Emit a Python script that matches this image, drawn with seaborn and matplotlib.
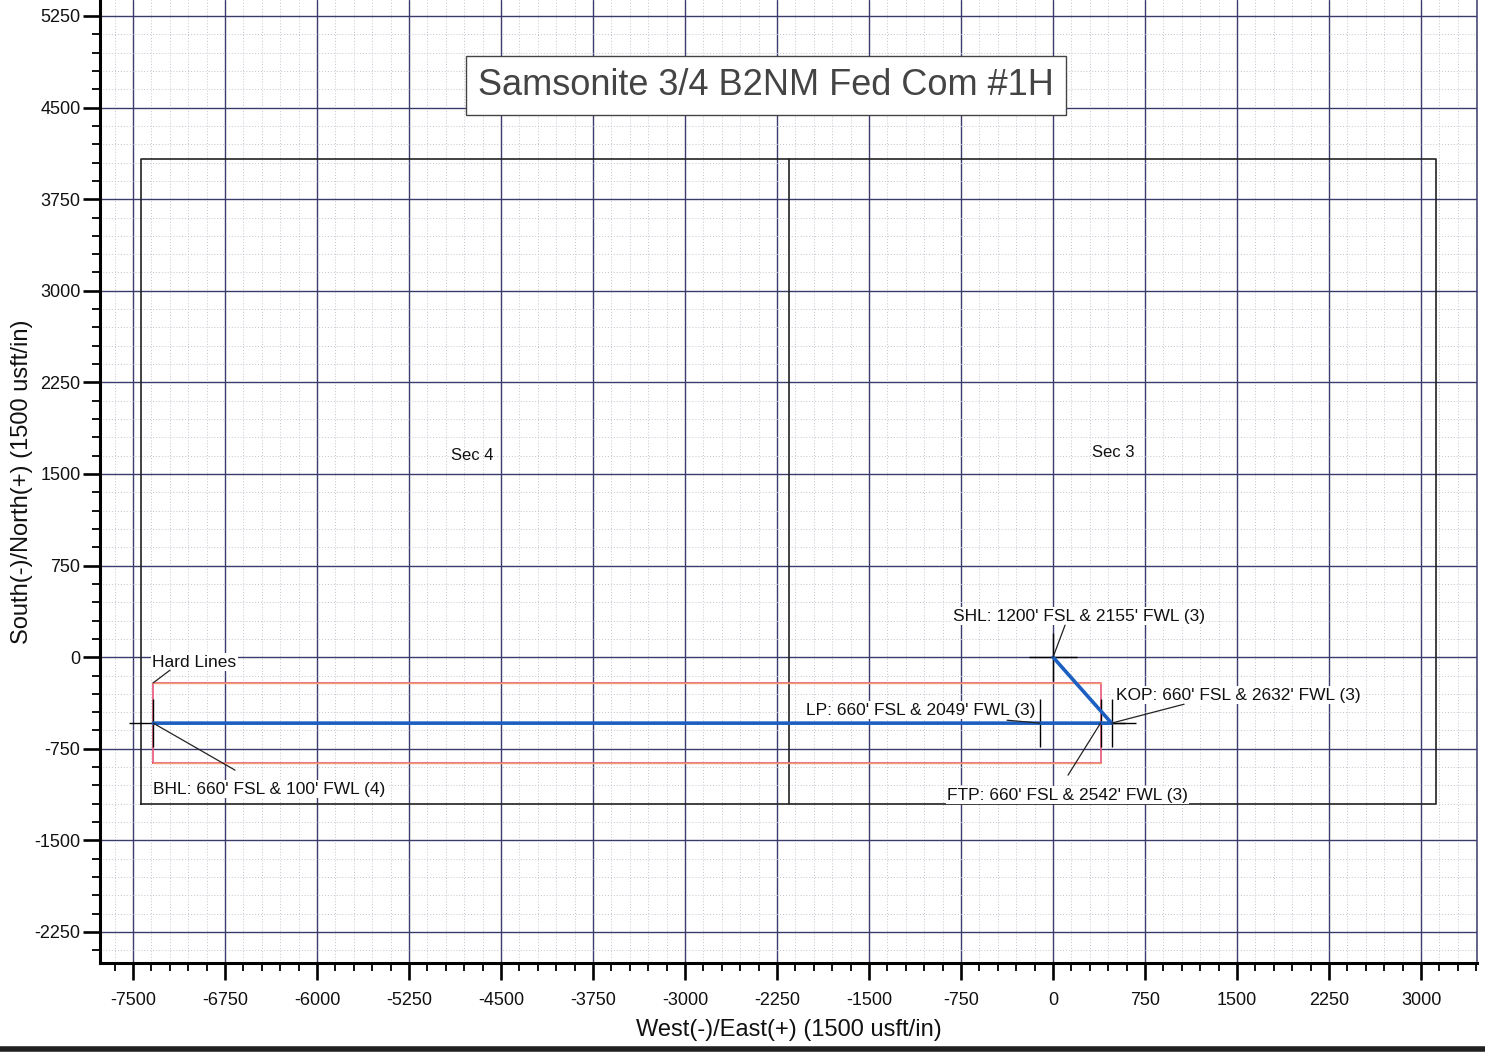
import matplotlib
matplotlib.use("Agg")
import matplotlib.pyplot as plt
import seaborn as sns
import numpy as np
import pandas as pd
from matplotlib.lines import Line2D

# ---------------- data ----------------
title_text = "Samsonite 3/4 B2NM Fed Com #1H"
x_label = "West(-)/East(+) (1500 usft/in)"
y_label = "South(-)/North(+) (1500 usft/in)"

x_ticks = [-7500, -6750, -6000, -5250, -4500, -3750, -3000, -2250, -1500, -750, 0, 750, 1500, 2250, 3000]
y_ticks = [-2250, -1500, -750, 0, 750, 1500, 2250, 3000, 3750, 4500, 5250]

# section boundaries (Sec 4 on the west, Sec 3 on the east)
section_names = ["Sec 4", "Sec 3"]
section_west = [-7435, -2155]
section_east = [-2155, 3125]
section_south = -1200
section_north = 4080

# well path points
point_names = ["SHL", "KOP", "FTP", "LP", "BHL"]
point_x = [0, 477, 387, -106, -7335]
point_y = [0, -540, -540, -540, -540]
point_labels = [
    "SHL: 1200' FSL & 2155' FWL (3)",
    "KOP: 660' FSL & 2632' FWL (3)",
    "FTP: 660' FSL & 2542' FWL (3)",
    "LP: 660' FSL & 2049' FWL (3)",
    "BHL: 660' FSL & 100' FWL (4)",
]

# hard lines box
hard_x = [-7335, 387]
hard_y = [-870, -210]
hard_label = "Hard Lines"

# ---------------- style ----------------
sns.set_theme(style="white")
plt.rcParams["font.family"] = ["Liberation Sans", "DejaVu Sans"]

fig = plt.figure(figsize=(14.85, 10.55), dpi=100)
ax = fig.add_axes([100 / 1485, 1 - 963 / 1055, 1377 / 1485, 963 / 1055])
ax.set_facecolor("white")

ax.set_xlim(-7769, 3456)
ax.set_ylim(-2504, 5381)

major_c = "#3c3c6c"
ax.set_xticks(x_ticks)
ax.set_yticks(y_ticks)
ax.set_xticks(np.arange(-7650, 3451, 150), minor=True)
ax.set_yticks(np.arange(-2400, 5381, 150), minor=True)
ax.set_xticklabels([str(v) for v in x_ticks])
ax.set_yticklabels([str(v) for v in y_ticks])

ax.grid(which="minor", color="#c4c4d0", linestyle=(0, (1, 2)), linewidth=0.7, zorder=0)
ax.grid(which="major", color=major_c, linestyle="-", linewidth=1.0, zorder=0.5)
ax.set_axisbelow(True)

ax.tick_params(axis="both", which="major", direction="out", length=12, width=1.9,
               color="black", labelsize=13, labelcolor="#111111")
ax.tick_params(axis="both", which="minor", direction="out", length=6, width=1.3, color="black")
ax.tick_params(axis="x", which="major", pad=9)
ax.tick_params(axis="y", which="major", pad=2)
ax.tick_params(left=True, bottom=True, which="both")

for s in ["left", "bottom"]:
    ax.spines[s].set_linewidth(2.2)
    ax.spines[s].set_color("black")
ax.spines["top"].set_visible(False)
ax.spines["right"].set_linewidth(1.1)
ax.spines["right"].set_color(major_c)

# ---------------- sections ----------------
x0, x1 = section_west[0], section_east[-1]
ax.plot([x0, x1, x1, x0, x0],
        [section_south, section_south, section_north, section_north, section_south],
        color="#222222", lw=1.2, zorder=2)
for w in section_west[1:]:
    ax.plot([w, w], [section_south, section_north], color="#222222", lw=1.2, zorder=2)

sec_pos = {"Sec 4": (-4736, 1655), "Sec 3": (489, 1680)}
for name in section_names:
    ax.text(*sec_pos[name], name, fontsize=12, ha="center", va="center", color="#111111", zorder=3)

# ---------------- hard lines ----------------
hx0, hx1 = hard_x
hy0, hy1 = hard_y
ax.plot([hx0, hx1, hx1, hx0, hx0], [hy0, hy0, hy1, hy1, hy0], color="#e8557c", lw=1.2, zorder=3)
ax.plot([hx0, hx1], [hy1, hy1], color="#f29a72", lw=1.0, zorder=3.1)
ax.plot([hx0, hx1], [hy0, hy0], color="#f29a72", lw=1.0, zorder=3.1)

# ---------------- well path ----------------
df = pd.DataFrame({"x": point_x, "y": point_y, "name": point_names})
sns.scatterplot(data=df, x="x", y="y", marker="+", s=34 ** 2, color="black",
                linewidth=1.0, ax=ax, zorder=4, legend=False)
sns.lineplot(data=df, x="x", y="y", sort=False, estimator=None, color="#1c5fc0",
             lw=2.6, ax=ax, zorder=5)

ax.set_xlabel(x_label, fontsize=17, color="#111111", va="center")
ax.set_ylabel(y_label, fontsize=17, color="#111111", va="center")
ax.xaxis.set_label_coords(0.5, (963 - 1030) / 963)
ax.yaxis.set_label_coords((22 - 100) / 1377, 0.5)

# ---------------- labels & leaders ----------------
label_layout = {
    "SHL": ((-815, 337), (98, 262)),
    "KOP": ((514, -310), (1068, -385)),
    "FTP": ((-864, -1129), (122, -966)),
    "LP": ((-2014, -433), (-375, -516)),
    "BHL": ((-7337, -1080), (-6668, -925)),
}
bb = dict(facecolor="white", edgecolor="none", pad=1.0)
for name, px, py, lab in zip(point_names, point_x, point_y, point_labels):
    (tx, ty), (lx, ly) = label_layout[name]
    ax.text(tx, ty, lab, fontsize=12.5, ha="left", va="center", color="#111111", bbox=bb, zorder=6)
    ax.plot([lx, px], [ly, py], color="#222222", lw=0.9, zorder=6)

ax.text(-7345, -40, hard_label, fontsize=12.5, ha="left", va="center", color="#111111", bbox=bb, zorder=6)
ax.plot([-7198, hx0], [-106, hy1], color="#222222", lw=0.9, zorder=6)

# ---------------- title box ----------------
ax.text(-2340, 4683, title_text, fontsize=26, ha="center", va="center", color="#444444",
        bbox=dict(boxstyle="square,pad=0.33", facecolor="white", edgecolor="#444444", lw=1.0),
        zorder=7)

# scan bottom edge
fig.add_artist(Line2D([0, 1], [6 / 1055, 6 / 1055], transform=fig.transFigure,
                      color="#202020", lw=4))

fig.savefig("out.png", dpi=100, facecolor="white")
